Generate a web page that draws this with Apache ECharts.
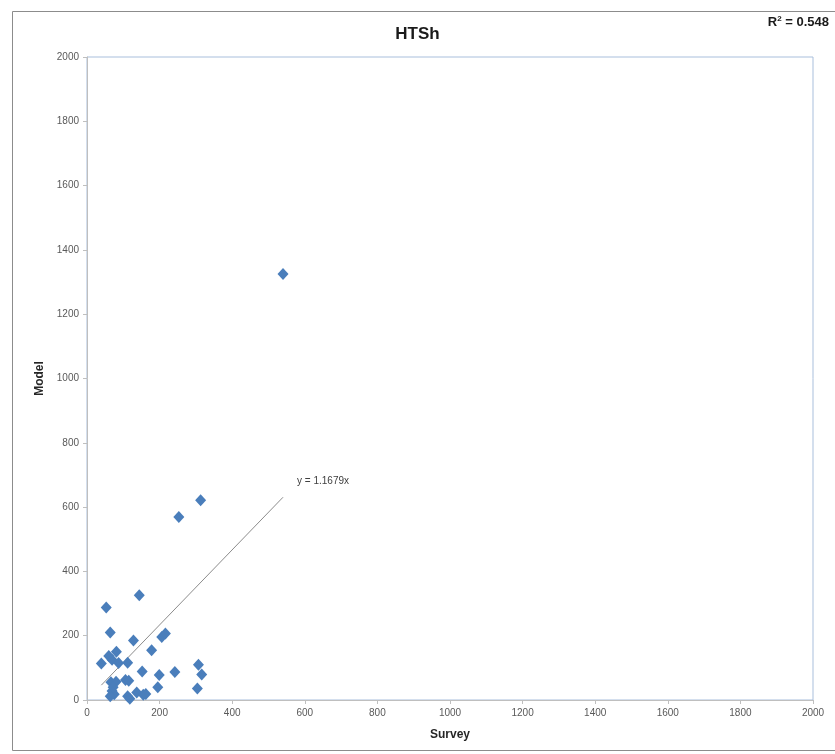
<!DOCTYPE html>
<html>
<head>
<meta charset="utf-8">
<title>HTSh</title>
<script src="https://cdn.jsdelivr.net/npm/echarts@6/dist/echarts.min.js"></script>
<style>
  html, body { margin: 0; padding: 0; background: #ffffff; }
  #chart { width: 835px; height: 754px; }
</style>
</head>
<body>
<div id="chart"></div>
<script>
// Survey counts (x) and modelled counts (y) per site
const surveyValues = [39.5, 53, 64, 60, 81, 69, 87, 112, 128, 144, 178, 206, 216, 152, 199, 242, 307, 316, 304, 195,
  66, 80, 106, 115, 69, 75, 64, 72, 112, 118, 137, 155, 162, 253, 313, 540];
const modelValues = [113.5, 288, 210, 137, 150, 125, 115, 116, 185, 326, 155, 196, 207, 89, 78, 87, 110, 79, 36, 40,
  55, 57, 62, 60, 28, 18, 12, 40, 12, 4, 23, 16, 19, 569, 621, 1325];

// Linear fit through the origin and its goodness of fit
const trendSlope = 1.1679;
const rSquared = '0.548';

// Axis range and step
const axisMin = 0;
const axisMax = 2000;
const axisStep = 200;

const points = surveyValues.map((x, i) => [x, modelValues[i]]);
const xMinData = Math.min(...surveyValues);
const xMaxData = Math.max(...surveyValues);
const trendLine = [
  [xMinData, trendSlope * xMinData],
  [xMaxData, trendSlope * xMaxData]
];

const FONT = 'Liberation Sans, Arial, sans-serif';
const tickFont = { fontFamily: FONT, fontSize: 10, color: '#595959', formatter: v => String(v) };
const nameFont = { fontFamily: FONT, fontSize: 12, fontWeight: 'bold', color: '#262626' };

const chart = echarts.init(document.getElementById('chart'), null, { renderer: 'canvas' });
chart.setOption({
  animation: false,
  backgroundColor: '#ffffff',
  title: {
    text: 'HTSh',
    left: 'center',
    top: 21,
    textStyle: { fontFamily: FONT, fontSize: 17, fontWeight: 'bold', color: '#1a1a1a' }
  },
  graphic: [
    {
      type: 'rect', left: 10, top: 9, z: -1,
      shape: { width: 823, height: 739 },
      style: { fill: 'none', stroke: '#8c8c8c', lineWidth: 1 }
    },
    {
      type: 'text', right: 6, top: 15,
      style: {
        text: '{b|R}{s|2}{b| = ' + rSquared + '}',
        rich: {
          b: { fontFamily: FONT, fontSize: 13, fontWeight: 'bold', fill: '#1a1a1a' },
          s: { fontFamily: FONT, fontSize: 8, fontWeight: 'bold', fill: '#1a1a1a', verticalAlign: 'top', padding: [0, 0, 7, 0] }
        }
      }
    }
  ],
  grid: {
    left: 87, right: 22, top: 57, bottom: 54,
    show: true, borderColor: '#a9bfdc', borderWidth: 1, backgroundColor: 'transparent'
  },
  xAxis: {
    type: 'value', min: axisMin, max: axisMax, interval: axisStep,
    name: 'Survey', nameLocation: 'middle', nameGap: 29, nameTextStyle: nameFont,
    axisLine: { show: true, lineStyle: { color: '#bfbfbf' } },
    axisTick: { show: true, length: 4, lineStyle: { color: '#bfbfbf' } },
    axisLabel: { ...tickFont, margin: 8 },
    splitLine: { show: false }
  },
  yAxis: {
    type: 'value', min: axisMin, max: axisMax, interval: axisStep,
    name: 'Model', nameLocation: 'middle', nameGap: 32, nameRotate: 90, nameTextStyle: nameFont,
    axisLine: { show: true, lineStyle: { color: '#bfbfbf' } },
    axisTick: { show: true, length: 4, lineStyle: { color: '#bfbfbf' } },
    axisLabel: { ...tickFont, margin: 8 },
    splitLine: { show: false }
  },
  series: [
    {
      type: 'line',
      data: trendLine,
      showSymbol: false,
      symbol: 'none',
      lineStyle: { color: '#8c8c8c', width: 1 },
      endLabel: {
        show: true,
        formatter: 'y = ' + trendSlope + 'x',
        offset: [6, -16],
        fontFamily: FONT, fontSize: 10, color: '#404040'
      },
      silent: true,
      z: 1
    },
    {
      type: 'scatter',
      data: points,
      symbol: 'diamond',
      symbolSize: [11, 12],
      itemStyle: { color: '#4a7ebb', opacity: 1 },
      z: 2
    }
  ]
});
</script>
</body>
</html>
